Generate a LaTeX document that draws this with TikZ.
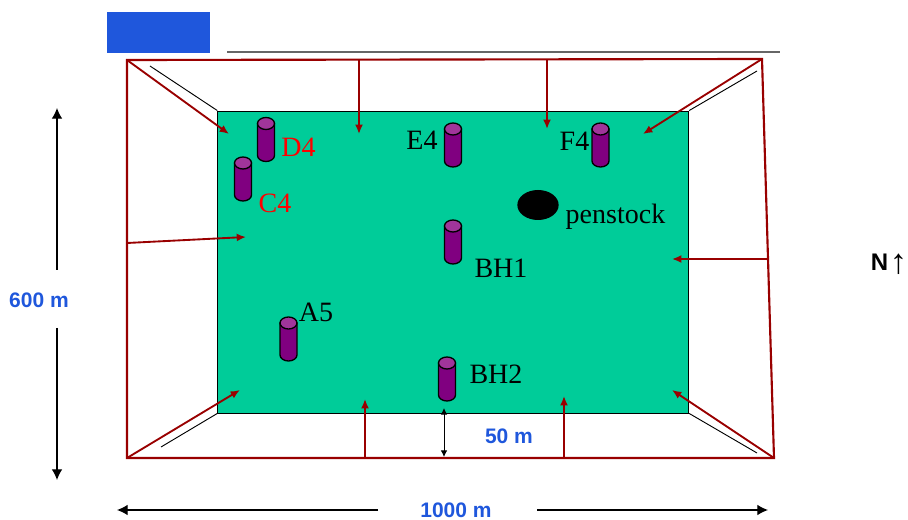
\documentclass[tikz,border=0pt]{standalone}
\usepackage{fontspec}
\setmainfont{Liberation Serif}
\setsansfont{Liberation Sans}
\usetikzlibrary{arrows.meta,calc,positioning,shapes,shapes.geometric}
\definecolor{sitegreen}{HTML}{00CC99}
\definecolor{framered}{HTML}{990000}
\definecolor{dimblue}{HTML}{1F57DC}
\definecolor{wellpurple}{HTML}{800080}
\definecolor{welltop}{HTML}{A0359A}

\begin{document}
\begin{tikzpicture}[
  x=0.75pt,y=-0.75pt,
  wellbore/.pic={
    \draw[black,line width=1pt,fill=wellpurple] (-8.5,-16) -- (-8.5,16) arc[start angle=180,end angle=0,x radius=8.5,y radius=6] -- (8.5,-16) -- cycle;
    \draw[black,line width=1pt,fill=welltop] (0,-16) ellipse[x radius=8.5,y radius=6];
  },
  welllabel/.style={font=\fontsize{21}{24}\selectfont,inner sep=0pt},
  dimlabel/.style={font=\sffamily\bfseries\fontsize{15.75}{18}\selectfont,text=dimblue,inner sep=0pt},
  pull/.style={-{Latex[length=7pt,width=6pt]},draw=framered,line width=1.4pt},
  dimline/.style={-{Latex[length=8pt,width=8pt]},black,line width=0.9pt}
  ]
  \useasboundingbox (0,0) rectangle (908,520);

  \node[fill=dimblue,minimum width=77.25pt,minimum height=30.75pt,inner sep=0pt] (tab) at (158.5,32.5) {};
  \node[fill=sitegreen,draw=black,line width=0.7pt,minimum width=353.25pt,minimum height=226.5pt,inner sep=0pt] (site) at (453.25,262) {};

  % corners of the outer frame
  \coordinate (nw) at (127,60);
  \coordinate (ne) at (762,59);
  \coordinate (se) at (774,458);
  \coordinate (sw) at (127,458);

  \draw[gray!80!black,line width=0.8pt] (227,52) coordinate (rulea) -- (780,52) coordinate (ruleb);

  % perspective lines
  \draw[black,line width=0.7pt] (site.north west) -- (150,66) coordinate (ka);
  \draw[black,line width=0.7pt] (site.north east) -- (757,71) coordinate (kb);
  \draw[black,line width=0.7pt] (site.south west) -- (161,447) coordinate (kc);
  \draw[black,line width=0.7pt] (site.south east) -- (757,453) coordinate (kd);

  \draw[framered,line width=1.6pt] (nw) -- (ne) -- (se) -- (sw) -- cycle;

  % arrows from the frame
  \draw[pull] (nw) -- (229,134) coordinate (pa);
  \draw[pull] (ne) -- (643,134) coordinate (pb);
  \draw[pull] (sw) -- (240,390) coordinate (pc);
  \draw[pull] (se) -- (672,390) coordinate (pd);
  \draw[pull] (359,60) coordinate (qa) -- (359,134) coordinate (pe);
  \draw[pull] (547,60) coordinate (qb) -- (547,129) coordinate (pf);
  \draw[pull] (127,243) coordinate (qc) -- (246,237) coordinate (pg);
  \draw[pull] (768,259) coordinate (qd) -- (672,259) coordinate (ph);
  \draw[pull] (365,458) coordinate (qe) -- (365,399) coordinate (pi);
  \draw[pull] (564,458) coordinate (qf) -- (564,396) coordinate (pj);

  \pic (d4) at (266,139.5) {wellbore};
  \pic (c4) at (243,179) {wellbore};
  \pic (e4) at (453,145) {wellbore};
  \pic (f4) at (600.5,145) {wellbore};
  \pic (bh1) at (453,242) {wellbore};
  \pic (a5) at (288.5,339) {wellbore};
  \pic (bh2) at (447,379) {wellbore};

  \node[welllabel,text=red] (d4l) at (298.5,147) {D4};
  \node[welllabel,text=red] (c4l) at (275,203) {C4};
  \node[welllabel] (e4l) at (422,140.5) {E4};
  \node[welllabel] (f4l) at (574.5,141) {F4};
  \node[welllabel] (bh1l) at (501,268) {BH1};
  \node[welllabel] (a5l) at (316,312) {A5};
  \node[welllabel] (bh2l) at (496,374.5) {BH2};

  \node[ellipse,fill=black,minimum width=31pt,minimum height=22.5pt,inner sep=0pt] (pen) at (538,205) {};
  \node[welllabel] (penl) at (615.5,217) {penstock};

  % dimensions
  \node[dimlabel] (height) at (39,300) {600 m};
  \node[dimlabel] (width) at (456,510) {1000 m};
  \node[dimlabel] (gap) at (509,436) {50 m};
  \node[font=\sffamily\bfseries\fontsize{18}{20}\selectfont,inner sep=0pt] (north) at (879.5,262) {N};
  \node[font=\sffamily\fontsize{26}{28}\selectfont,inner sep=0pt] (northmark) at (898.5,264) {↑};

  \draw[dimline] (57,270) coordinate (ha) -- (57,108) coordinate (hb);
  \draw[dimline] (57,328) coordinate (hc) -- (57,480) coordinate (hd);
  \draw[dimline] (378,510) coordinate (wa) -- (117,510) coordinate (wb);
  \draw[dimline] (537,510) coordinate (wc) -- (768,510) coordinate (wd);
  \draw[{Latex[length=5pt,width=5pt]}-{Latex[length=5pt,width=5pt]},black,line width=0.7pt] (444,408) coordinate (ga) -- (444,457) coordinate (gb);

\end{tikzpicture}
\end{document}
